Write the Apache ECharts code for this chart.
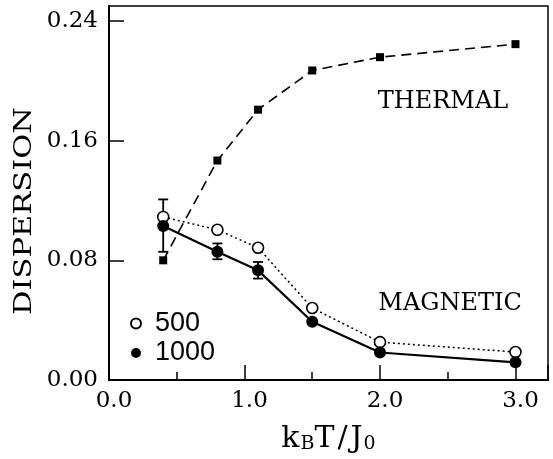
<!DOCTYPE html>
<html>
<head>
<meta charset="utf-8">
<script src="https://cdn.jsdelivr.net/npm/echarts@6/dist/echarts.min.js"></script>
<style>
  html, body { margin: 0; padding: 0; background: #fff; }
  #chart { width: 553px; height: 459px; }
</style>
</head>
<body>
<div id="chart"></div>
<script>
// Temperature points k_B T / J_0
var temps = [0.4, 0.8, 1.1, 1.5, 2.0, 3.0];
// Thermal dispersion
var thermal = [0.080, 0.1467, 0.1807, 0.2069, 0.2158, 0.2245];
// Magnetic dispersion, 500 and 1000 steps
var mag500 = [0.109, 0.1004, 0.0884, 0.0481, 0.0253, 0.0187];
var mag1000 = [0.1029, 0.0858, 0.0733, 0.0389, 0.0184, 0.0118];
// Error bars on the 1000-step series: [x, low, high]
var errX = [0.4, 0.8, 1.1];
var errLow = [0.0857, 0.0807, 0.0678];
var errHigh = [0.1207, 0.0913, 0.0789];
// Curve annotations
var noteText = ['THERMAL', 'MAGNETIC'];
var noteX = [2.465, 2.517];
var noteY = [0.1857, 0.0507];
// Axis ticks
var xTickStep = 1.0;
var yTickStep = 0.08;

function pairs(xs, ys) { return xs.map(function (x, i) { return [x, ys[i]]; }); }

var serif = 'DejaVu Serif';
var chart = echarts.init(document.getElementById('chart'), null, { renderer: 'canvas' });

var option = {
  backgroundColor: '#fff',
  animation: false,
  grid: {
    left: 109, right: 5, top: 6, bottom: 78,
    show: true, borderColor: '#000', borderWidth: 1.5, backgroundColor: 'transparent'
  },
  legend: {
    data: ['500', '1000'],
    orient: 'vertical',
    left: 125, top: 305,
    itemWidth: 10, itemHeight: 10, itemGap: 2.5,
    icon: 'circle',
    textStyle: { fontFamily: 'Liberation Sans', fontSize: 27, color: '#000', lineHeight: 27, padding: [0, 0, 0, 9] }
  },
  xAxis: {
    type: 'value', min: 0, max: 3.24, interval: xTickStep,
    name: '{m|k}{s|B}{m|T}{sl|/}{m|J}{s|0}',
    nameLocation: 'middle', nameGap: 44,
    nameTextStyle: {
      rich: {
        m: { fontFamily: serif, fontSize: 30, color: '#000' },
        sl: { fontFamily: serif, fontSize: 30, color: '#000', padding: [0, 3, 0, 3] },
        s: { fontFamily: serif, fontSize: 19, color: '#000', verticalAlign: 'bottom', padding: [8, 0, 0, 1] }
      }
    },
    axisLine: { lineStyle: { color: '#000', width: 2 } },
    axisTick: { inside: true, length: 15, lineStyle: { color: '#000', width: 1.5 } },
    minorTick: { show: true, splitNumber: 2, length: 8, lineStyle: { color: '#000', width: 1.5 } },
    splitLine: { show: false },
    axisLabel: {
      showMaxLabel: false, margin: 10, color: '#000', fontFamily: serif, fontSize: 23,
      padding: [0, 0, 0, 10],
      formatter: function (v) { return v.toFixed(1); }
    }
  },
  yAxis: {
    type: 'value', min: 0, max: 0.25, interval: yTickStep,
    axisLine: { lineStyle: { color: '#000', width: 2 } },
    axisTick: { inside: true, length: 15, lineStyle: { color: '#000', width: 1.5 } },
    splitLine: { show: false },
    axisLabel: {
      showMaxLabel: false, margin: 11, color: '#000', fontFamily: serif, fontSize: 23,
      formatter: function (v) { return v.toFixed(2); }
    }
  },
  graphic: [{
    type: 'text', x: 24, y: 211, rotation: Math.PI / 2, scaleX: 1.22,
    style: { text: 'DISPERSION', font: '25px "DejaVu Serif"', fill: '#000', textAlign: 'center', textVerticalAlign: 'middle' }
  }],
  series: [
    {
      name: 'err', type: 'custom', z: 1,
      data: errX.map(function (x, i) { return [x, errLow[i], errHigh[i]]; }),
      renderItem: function (params, api) {
        var lo = api.coord([api.value(0), api.value(1)]);
        var hi = api.coord([api.value(0), api.value(2)]);
        var w = 5;
        var s = { stroke: '#000', lineWidth: 1.8 };
        return { type: 'group', children: [
          { type: 'line', shape: { x1: lo[0], y1: lo[1], x2: hi[0], y2: hi[1] }, style: s },
          { type: 'line', shape: { x1: lo[0] - w, y1: lo[1], x2: lo[0] + w, y2: lo[1] }, style: s },
          { type: 'line', shape: { x1: hi[0] - w, y1: hi[1], x2: hi[0] + w, y2: hi[1] }, style: s }
        ] };
      }
    },
    {
      name: 'THERMAL', type: 'line', z: 2,
      data: pairs(temps, thermal),
      symbol: 'rect', symbolSize: 8, showAllSymbol: true,
      itemStyle: { color: '#000' },
      lineStyle: { color: '#000', width: 1.6, type: [10, 6] }
    },
    {
      name: '500', type: 'line', z: 3,
      data: pairs(temps, mag500),
      symbol: 'circle', symbolSize: 11, showAllSymbol: true,
      itemStyle: { color: '#fff', borderColor: '#000', borderWidth: 1.6 },
      lineStyle: { color: '#000', width: 1.5, type: [2, 3] }
    },
    {
      name: '1000', type: 'line', z: 4,
      data: pairs(temps, mag1000),
      symbol: 'circle', symbolSize: 12, showAllSymbol: true,
      itemStyle: { color: '#000' },
      lineStyle: { color: '#000', width: 2.2 }
    },
    {
      name: 'notes', type: 'scatter', z: 5, silent: true,
      data: noteText.map(function (t, i) { return [noteX[i], noteY[i], t]; }),
      symbolSize: 1,
      itemStyle: { color: 'rgba(0,0,0,0)' },
      label: {
        show: true, position: 'inside', color: '#000', fontFamily: serif, fontSize: 24,
        textBorderWidth: 0, textBorderColor: 'transparent', opacity: 1,
        formatter: function (p) { return p.value[2]; }
      }
    }
  ]
};
chart.setOption(option);
</script>
</body>
</html>
